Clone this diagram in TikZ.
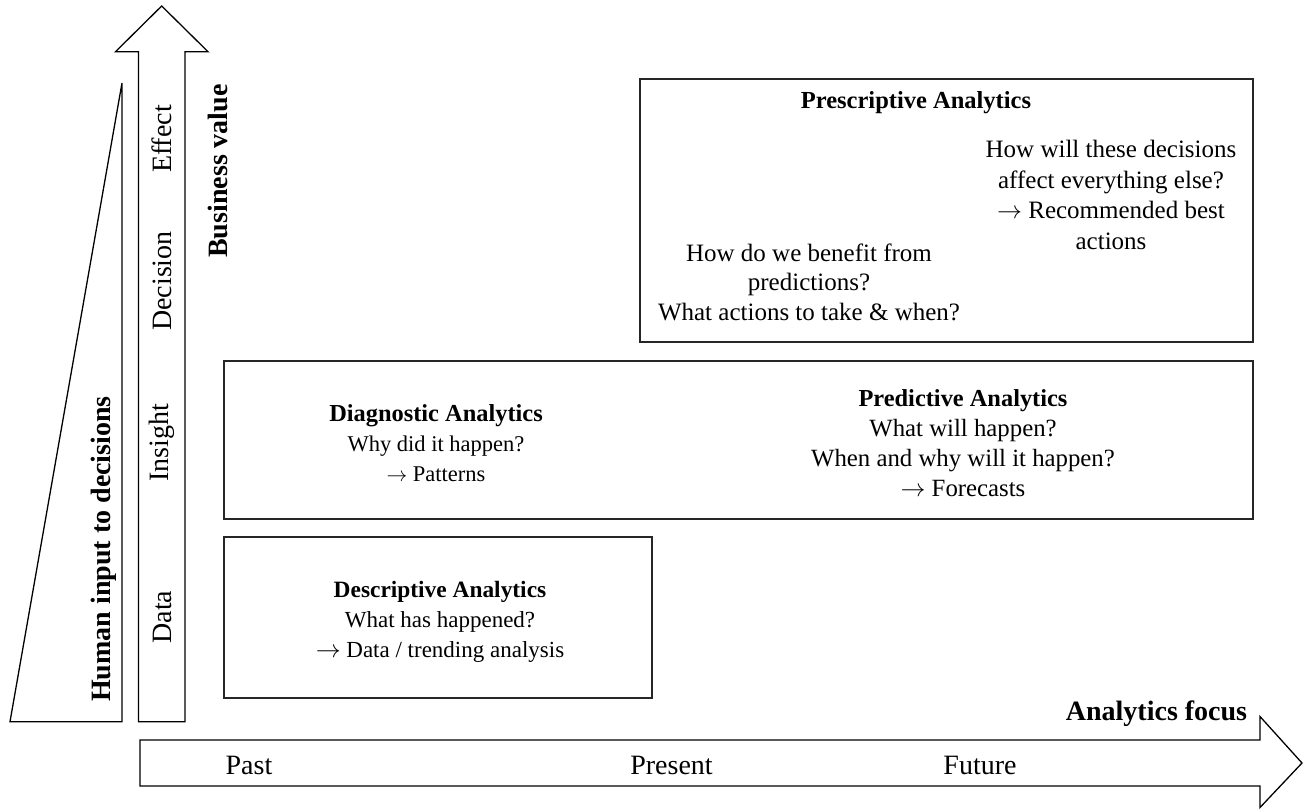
\documentclass[tikz,border=0pt]{standalone}
\usepackage{fontspec}
\setmainfont{Liberation Serif}
\newcommand{\ra}{$\rightarrow$}
\begin{document}
\begin{tikzpicture}[x=1pt,y=1pt,
  shp/.style={draw=black, line width=1.3pt, line join=miter},
  box/.style={draw=black!85, line width=1.3pt},
  txt/.style={align=center, inner sep=0pt},
  axl/.style={font=\fontsize{28}{34}\selectfont, inner sep=0pt},
  axb/.style={font=\fontsize{28}{34}\selectfont\bfseries, inner sep=0pt}]
\useasboundingbox (0,0) rectangle (1304,-809);
% left wedge
\draw[shp] (10,-721.7) -- (122,-83) -- (122,-721.7) -- cycle;
% up arrow
\draw[shp] (138.5,-721.7) -- (138.5,-51.7) -- (115.5,-51.7) -- (161.7,-6) -- (208,-51.7) -- (185,-51.7) -- (185,-721.7) -- cycle;
% bottom arrow
\draw[shp] (140,-740) -- (1260,-740) -- (1260,-716.5) -- (1302,-763) -- (1260,-807.5) -- (1260,-786) -- (140,-786) -- cycle;
% boxes
\draw[box] (640,-79) rectangle (1253,-342);
\draw[box] (224,-361) rectangle (1253,-519);
\draw[box] (224,-537) rectangle (652,-698);
% vertical labels
\node[axl, rotate=90] (effect) at (162,-139) {Effect};
\node[axl, rotate=90] (decision) at (162,-281) {Decision};
\node[axl, rotate=90] (insight) at (162,-443) {Insight};
\node[axl, rotate=90] (data) at (162,-617) {Data};
\node[axb, rotate=90] (bv) at (218,-171) {Business value};
\node[axb, rotate=90] (hi) at (104,-549) {Human input to decisions};
% bottom labels
\node[axl] (past) at (249,-765) {Past};
\node[axl] (present) at (671.5,-765) {Present};
\node[axl] (future) at (980,-765) {Future};
\node[axb] (af) at (1156.5,-714) {Analytics focus};
% box texts
\node[txt, font=\fontsize{24.5}{31}\selectfont\bfseries] (prtitle) at (916,-103) {Prescriptive Analytics};
\node[txt, font=\fontsize{25}{30.5}\selectfont] (prright) at (1111,-195) {How will these decisions\\affect everything else?\\\ra\ Recommended best\\actions};
\node[txt, font=\fontsize{25}{29.5}\selectfont] (prleft) at (809,-282) {How do we benefit from\\predictions?\\What actions to take \& when?};
\node[txt, font=\fontsize{22.5}{30}\selectfont] (diag) at (436,-443) {{\fontsize{24.4}{30}\selectfont\bfseries Diagnostic Analytics}\\Why did it happen?\\\ra\ Patterns};
\node[txt, font=\fontsize{24.8}{30}\selectfont] (pred) at (963,-443) {{\fontsize{24.4}{30}\selectfont\bfseries Predictive Analytics}\\What will happen?\\When and why will it happen?\\\ra\ Forecasts};
\node[txt, font=\fontsize{23}{30}\selectfont] (desc) at (440,-622) {{\fontsize{23.4}{30}\selectfont\bfseries Descriptive Analytics}\\What has happened?\\\ra\ Data / trending analysis};
\end{tikzpicture}
\end{document}
